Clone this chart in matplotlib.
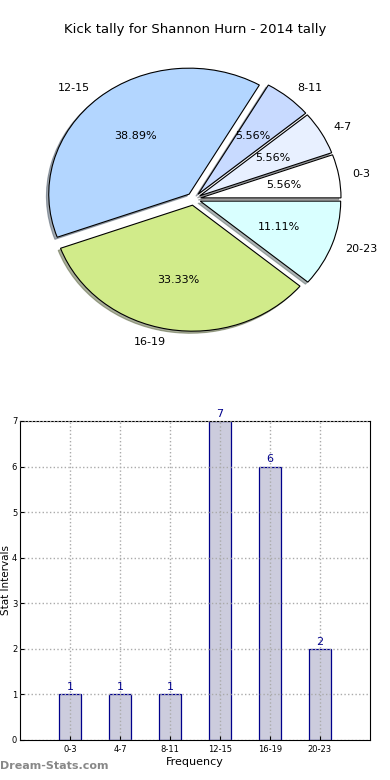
import matplotlib
matplotlib.use("Agg")
import matplotlib.pyplot as plt
import numpy as np

# data
intervals = ["0-3", "4-7", "8-11", "12-15", "16-19", "20-23"]
kicks = [1, 1, 1, 7, 6, 2]
slice_colors = ["#ffffff", "#e8f0ff", "#c8daff", "#b3d6ff", "#d1eb8a", "#d9ffff"]

fig = plt.figure(figsize=(3.9, 7.8), dpi=100)

# pie chart on top (old-style, slightly squashed, not equal aspect)
ax1 = fig.add_axes([0.0466, 0.543, 0.9, 0.4038])
ax1.pie(kicks, labels=intervals, colors=slice_colors, autopct="%1.2f%%",
        explode=[0.05] * len(kicks), startangle=0, labeldistance=1.1,
        shadow=dict(ox=-0.012, oy=-0.012, shade=0.6),
        wedgeprops=dict(edgecolor="black", linewidth=0.8),
        textprops=dict(fontsize=8))
ax1.set_aspect("auto")
ax1.set_xlim(-1.25, 1.25)
ax1.set_ylim(-1.25, 1.25)
fig.text(0.5, 0.962, "Kick tally for Shannon Hurn - 2014 tally",
         ha="center", va="center", fontsize=9.5)

# bar chart below
ax2 = fig.add_axes([0.0513, 0.0513, 0.897, 0.409])
x = np.arange(len(intervals))
ax2.bar(x, kicks, width=0.45, color="#ccccdd", edgecolor="#00008b", linewidth=0.9)
for xi, k in zip(x, kicks):
    ax2.text(xi, k + 0.05, str(k), ha="center", va="bottom", color="#00008b", fontsize=8)
ax2.set_xlim(-1, 6)
ax2.set_ylim(0, 7)
ax2.set_xticks(x)
ax2.set_xticklabels(intervals, fontsize=6)
ax2.set_yticks(range(8))
ax2.tick_params(axis="y", labelsize=6, pad=2)
ax2.tick_params(direction="in", length=3)
ax2.grid(True, linestyle=":", color="#aaaaaa", linewidth=1)
ax2.set_axisbelow(False)
ax2.set_xlabel("Frequency", fontsize=8, labelpad=2)
ax2.set_ylabel("Stat Intervals", fontsize=7.5)
ax2.yaxis.set_label_coords(-0.025, 0.5)

fig.text(0.0, 0.012, "Dream-Stats.com", color="#888888", fontsize=8,
         fontweight="bold", ha="left", va="bottom")

fig.savefig("out.png", dpi=100)
